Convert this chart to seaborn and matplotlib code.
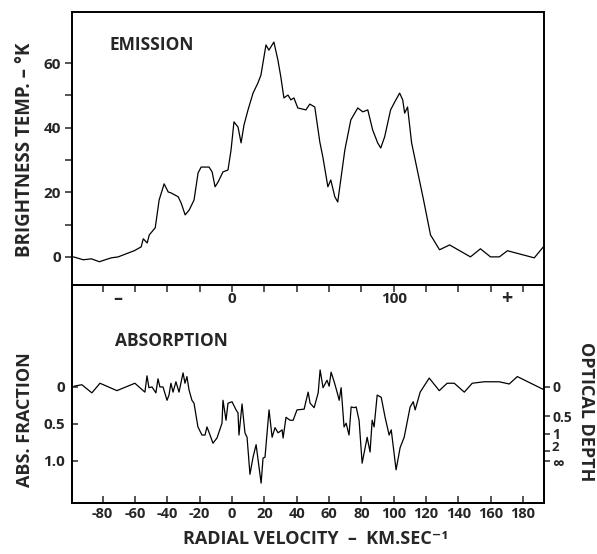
import numpy as np
import pandas as pd
import matplotlib
matplotlib.use('Agg')
import matplotlib.pyplot as plt
import seaborn as sns

# emission profile (velocity km/s, brightness temp K)
em_vel = [-98.1, -92.0, -87.0, -82.1, -74.7, -70.4, -64.2, -60.5, -56.2, -54.9, -52.5, -51.2,
          -47.5, -45.1, -42.0, -39.5, -37.7, -33.3, -31.5, -29.0, -26.5, -23.5, -21.0, -19.1,
          -14.2, -12.3, -10.5, -8.6, -5.6, -2.5, -0.6, 1.2, 3.7, 5.6, 7.4, 9.9, 13.0, 16.0,
          17.9, 21.0, 22.8, 25.9, 28.4, 30.2, 32.1, 34.6, 36.4, 38.3, 40.7, 45.7, 48.1, 51.2,
          54.3, 56.2, 59.3, 61.1, 63.6, 65.4, 69.8, 73.5, 77.8, 80.9, 84.0, 87.0, 90.1, 92.0,
          94.4, 98.1, 100.6, 103.7, 105.6, 106.8, 108.6, 111.1, 118.5, 122.8, 128.4, 134.6,
          147.5, 153.7, 159.9, 165.4, 170.4, 187.0, 192.6]
em_temp = [0.0, -0.9, -0.6, -1.5, -0.3, 0.0, 1.2, 1.9, 3.1, 5.6, 4.3, 6.8,
           9.0, 17.6, 22.6, 20.1, 19.8, 18.6, 16.7, 13.0, 14.5, 17.6, 26.0, 27.8,
           27.8, 26.3, 21.7, 23.2, 26.3, 26.9, 33.1, 41.8, 40.2, 35.3, 40.8, 45.5, 50.7, 53.8,
           56.3, 65.6, 64.0, 66.5, 60.9, 55.7, 49.2, 50.1, 48.6, 49.2, 46.1, 45.5, 47.3, 46.4,
           35.6, 30.9, 21.7, 23.8, 18.6, 17.0, 33.1, 42.4, 46.1, 44.9, 45.5, 39.3, 35.3, 33.7,
           37.1, 45.5, 47.9, 50.7, 48.6, 44.5, 46.4, 35.3, 17.6, 6.8, 2.2, 3.7,
           0.0, 2.5, 0.0, 0.0, 1.9, -0.3, 3.1]

# absorption profile (velocity km/s, absorbed fraction)
ab_vel = [-97.8, -92.9, -86.7, -81.7, -71.2, -60.1, -53.9, -52.6, -51.4, -49.5, -48.3, -47.1,
          -45.8, -44.6, -42.7, -40.2, -39.0, -37.8, -36.5, -34.7, -32.8, -30.3, -29.1, -27.9,
          -26.6, -24.8, -23.5, -21.1, -18.6, -16.7, -15.5, -13.6, -11.8, -9.3, -6.2, -5.6,
          -3.7, -2.5, 0.0, 2.5, 3.7, 4.3, 6.2, 8.0, 9.3, 11.1, 13.0, 14.9, 18.0, 19.2, 20.4,
          22.9, 24.8, 26.6, 28.5, 31.0, 31.6, 33.4, 35.9, 37.8, 40.2, 44.6, 47.1, 48.3, 50.8,
          53.3, 54.5, 56.3, 58.8, 60.1, 61.3, 63.2, 65.0, 66.3, 67.5, 69.3, 70.6, 72.4, 73.7,
          75.5, 76.8, 78.6, 80.5, 83.6, 85.4, 86.7, 87.9, 89.8, 92.3, 94.7, 97.2, 98.5, 101.5,
          104.0, 106.5, 110.2, 112.1, 113.3, 116.4, 122.0, 128.2, 133.1, 137.5, 143.7, 148.6,
          156.0, 165.3, 171.5, 176.5, 193.2]
ab_frac = [-0.01, -0.03, 0.08, -0.05, 0.05, -0.05, 0.07, -0.15, 0.01, 0.0, 0.04, 0.08,
           -0.11, 0.0, 0.0, 0.18, 0.11, -0.05, 0.07, -0.07, 0.07, -0.19, -0.05, -0.14,
           0.04, 0.18, 0.22, 0.54, 0.65, 0.65, 0.54, 0.65, 0.76, 0.69, 0.49, 0.18,
           0.45, 0.22, 0.20, 0.31, 0.35, 0.65, 0.23, 0.62, 0.68, 1.18, 0.95, 0.78, 1.30, 0.96, 0.95,
           0.31, 0.68, 0.55, 0.62, 0.58, 0.69, 0.41, 0.45, 0.45, 0.31, 0.30, 0.07, 0.22, 0.28,
           0.08, -0.23, 0.01, -0.09, -0.01, -0.20, -0.07, 0.07, 0.18, 0.01, 0.54, 0.49, 0.65, 0.27,
           0.28, 0.27, 0.45, 1.03, 0.68, 0.88, 0.45, 0.54, 0.11, 0.14, 0.41, 0.65, 0.58, 1.12,
           0.82, 0.68, 0.27, 0.20, 0.31, 0.07, -0.12, 0.05, -0.05, -0.05, 0.07, -0.05,
           -0.07, -0.07, -0.04, -0.14, 0.04]

vel_ticks = list(range(-80, 181, 20))
tau_ticks = [0, 0.5, 1, 2]
tau_labels = ['0', '0.5', '1', '2', '\u221e']

sns.set_theme(style='ticks')
plt.rcParams['font.family'] = ['Open Sans', 'DejaVu Sans']
plt.rcParams['font.weight'] = 'bold'

em = pd.DataFrame({'vel': em_vel, 'temp': em_temp})
ab = pd.DataFrame({'vel': ab_vel, 'frac': ab_frac})

fig = plt.figure(figsize=(5.97, 5.54), dpi=100)
fig.patch.set_facecolor('white')
ax1 = fig.add_axes([0.1206, 0.4856, 0.7906, 0.4927])
ax2 = fig.add_axes([0.1206, 0.0921, 0.7906, 0.3935])
ax1.patch.set_visible(False)
ax2.patch.set_visible(False)

sns.lineplot(data=em, x='vel', y='temp', ax=ax1, color='black', lw=0.9, estimator=None, sort=False)
sns.lineplot(data=ab, x='vel', y='frac', ax=ax2, color='black', lw=0.9, estimator=None, sort=False)

# emission panel
ax1.set_xlim(-99, 193)
ax1.set_ylim(-8.7, 75.8)
ax1.set_yticks([0, 20, 40, 60])
ax1.set_yticks([10, 30, 50], minor=True)
ax1.set_xticks(vel_ticks)
ax1.set_xticklabels(['0' if v == 0 else ('100' if v == 100 else '') for v in vel_ticks])
ax1.tick_params(axis='y', which='both', direction='out', length=5, width=1.1, labelsize=11, pad=3)
ax1.tick_params(axis='x', direction='out', length=5, width=1.1, labelsize=11, pad=0)
ax1.set_xlabel('')
ax1.set_ylabel('')
ax1.text(-71, -0.05, '\u2013', transform=ax1.get_xaxis_transform(), ha='center', va='center',
         fontsize=13, fontweight='bold')
ax1.text(170, -0.05, '+', transform=ax1.get_xaxis_transform(), ha='center', va='center',
         fontsize=14, fontweight='bold')
ax1.text(0.08, 0.88, 'EMISSION', transform=ax1.transAxes, ha='left', va='center',
         fontsize=12.5, fontweight='bold')

# absorption panel
ax2.set_xlim(-99, 193)
ax2.set_ylim(1.568, -1.378)
ax2.set_yticks([0, 0.5, 1.0])
ax2.set_yticklabels(['0', '0.5', '1.0'])
ax2.set_xticks(vel_ticks)
ax2.set_xticklabels([str(v) for v in vel_ticks])
ax2.tick_params(axis='y', direction='in', length=4, width=1.1, labelsize=11, pad=5)
ax2.tick_params(axis='x', direction='in', length=5, width=1.1, labelsize=10.5, pad=3)
ax2.set_xlabel('')
ax2.set_ylabel('')
ax2.text(0.091, 0.743, 'ABSORPTION', transform=ax2.transAxes, ha='left', va='center',
         fontsize=12.5, fontweight='bold')

# optical depth scale on the right: tau -> 1 - exp(-tau)
tau_pos = [1 - np.exp(-t) for t in tau_ticks] + [1.0]
tw = ax2.twinx()
tw.set_ylim(1.568, -1.378)
tw.set_yticks(tau_pos)
tw.set_yticklabels(tau_labels[:3] + ['', ''])
tw.tick_params(axis='y', direction='out', length=4, width=1.1, labelsize=10, pad=2)
# crowded labels at the bottom of the scale, nudged apart as in the original
off = [-0.045, 0.04]
sizes = [9.5, 12]
for lab, p, d, fs in zip(tau_labels[3:], tau_pos[3:], off, sizes):
    tw.text(1.017, p + d, lab, transform=tw.get_yaxis_transform(), ha='left', va='center',
            fontsize=fs, fontweight='bold')

for a in (ax1, ax2, tw):
    for s in a.spines.values():
        s.set_linewidth(1.4)
        s.set_color('black')

fig.text(25 / 597, 1 - 150 / 554, 'BRIGHTNESS TEMP. \u2013 \u00b0K', rotation=90,
         ha='center', va='center', fontsize=13.5, fontweight='bold')
fig.text(25 / 597, 1 - 420 / 554, 'ABS. FRACTION', rotation=90,
         ha='center', va='center', fontsize=13, fontweight='bold')
fig.text(586 / 597, 1 - 412 / 554, 'OPTICAL DEPTH', rotation=270,
         ha='center', va='center', fontsize=13, fontweight='bold')
fig.text(316 / 597, 1 - 539 / 554, 'RADIAL VELOCITY  \u2013  KM.SEC\u207b\u00b9',
         ha='center', va='center', fontsize=13, fontweight='bold')

fig.savefig('out.png', dpi=100)
